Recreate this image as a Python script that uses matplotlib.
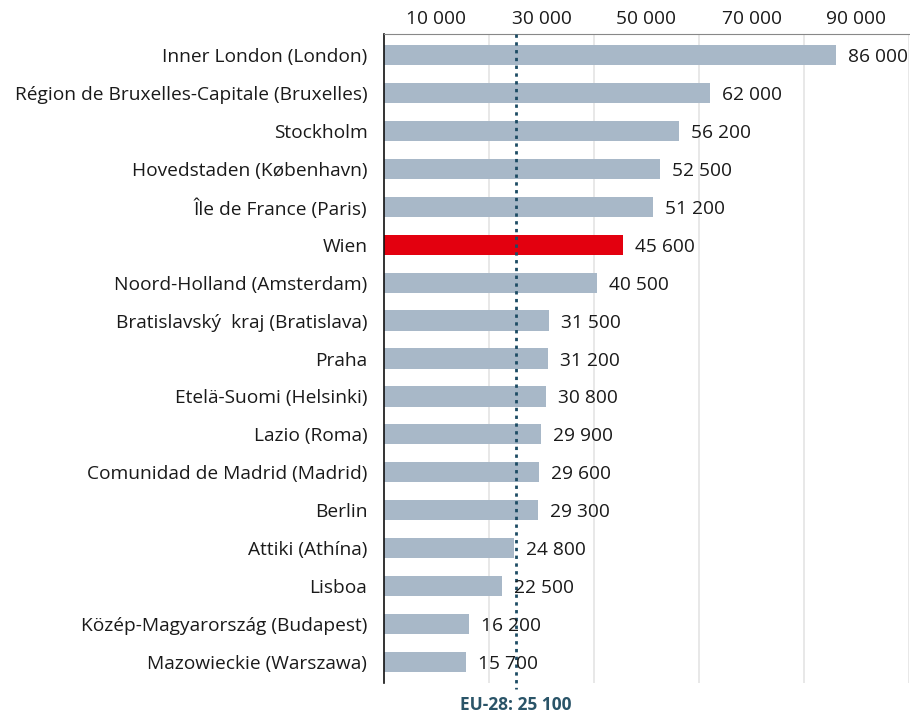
import numpy as np
import matplotlib.pyplot as plt
from matplotlib.ticker import FixedLocator, FuncFormatter

regions = ['Inner London (London)', 'Région de Bruxelles-Capitale (Bruxelles)',
           'Stockholm', 'Hovedstaden (København)', 'Île de France (Paris)',
           'Wien', 'Noord-Holland (Amsterdam)', 'Bratislavský  kraj (Bratislava)',
           'Praha', 'Etelä-Suomi (Helsinki)', 'Lazio (Roma)',
           'Comunidad de Madrid (Madrid)', 'Berlin', 'Attiki (Athína)',
           'Lisboa', 'Közép-Magyarország (Budapest)', 'Mazowieckie (Warszawa)']
values = [86000, 62000, 56200, 52500, 51200, 45600, 40500, 31500,
          31200, 30800, 29900, 29600, 29300, 24800, 22500, 16200, 15700]
highlight = 'Wien'
eu_value = 25100
eu_label = 'EU-28: 25 100'
tick_labels = [10000, 30000, 50000, 70000, 90000]

plt.rcParams['font.family'] = ['Open Sans', 'DejaVu Sans']
fontsize = 13.8


def fmt(v):
    return f'{int(v):,}'.replace(',', ' ')


fig = plt.figure(figsize=(9.1, 7.15), dpi=100)
ax = fig.add_axes([384 / 910, 32 / 715, (909 - 384) / 910, (683 - 34) / 715])

y = np.arange(len(regions))
colors = ['#e3000f' if r == highlight else '#a8b8c8' for r in regions]
ax.barh(y, values, height=0.53, color=colors, zorder=2)

for yi, v in zip(y, values):
    ax.text(v + 2300, yi, fmt(v), va='center_baseline', ha='left',
            fontsize=fontsize, color='#1a1a1a', zorder=4)

ax.set_xlim(0, 100000)
ax.set_ylim(len(regions) - 0.45, -0.55)
ax.set_yticks(y)
ax.set_yticklabels(regions, fontsize=fontsize, color='#1a1a1a',
                   va='center_baseline')

ax.xaxis.tick_top()
ax.xaxis.set_major_locator(FixedLocator(tick_labels))
ax.xaxis.set_major_formatter(FuncFormatter(lambda v, p: fmt(v)))
ax.xaxis.set_minor_locator(FixedLocator(np.arange(10000, 100001, 10000)))
ax.tick_params(axis='x', which='both', length=0, labelsize=fontsize,
               labelcolor='#1a1a1a', pad=4)
ax.tick_params(axis='y', length=0, pad=12)
ax.grid(axis='x', which='minor', color='#e4e4e4', linewidth=1.2, zorder=0)

for s in ['right', 'bottom']:
    ax.spines[s].set_visible(False)
ax.spines['top'].set_color('#888888')
ax.spines['left'].set_color('#111111')
ax.spines['left'].set_linewidth(1.2)

# EU average line
ax.plot([eu_value, eu_value], [-0.55, len(regions) - 0.3], color='#1c4b63',
        linestyle=(0, (1.2, 1.6)), linewidth=2, zorder=3, clip_on=False)
ax.text(eu_value, len(regions) + 0.12, eu_label, ha='center', va='center',
        fontsize=12.5, fontweight='bold', color='#2a5468')

fig.savefig('out.png', dpi=100)
